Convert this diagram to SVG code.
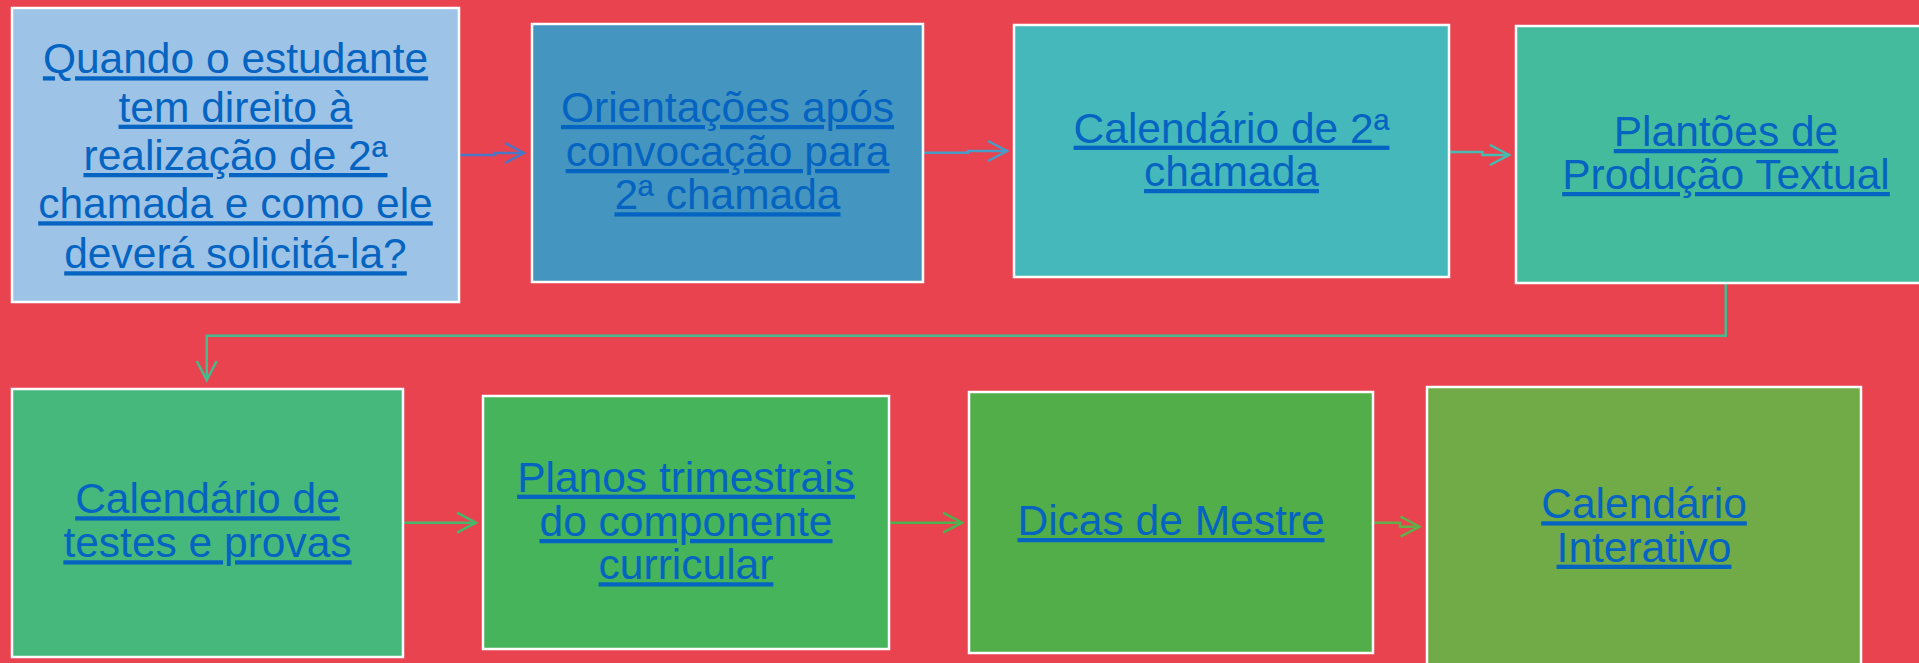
<svg xmlns="http://www.w3.org/2000/svg" width="1919" height="663" viewBox="0 0 1919 663">
<style>
.box{stroke:#ffffff;stroke-width:2.5}
.lbl{font-family:"Liberation Sans",Arial,sans-serif;font-size:42.5px;fill:#0563C1;text-anchor:middle;text-decoration:underline}
.con{fill:none;stroke-width:2.5;stroke-linejoin:miter}
</style>
<defs>
<marker id="ah1" markerUnits="userSpaceOnUse" markerWidth="24" markerHeight="24" viewBox="-21 -12 24 24" refX="0" refY="0" orient="auto"><path d="M-19,-10 L0,0 L-19,10" fill="none" stroke="#4A78C6" stroke-width="2.5"/></marker>
<marker id="ah2" markerUnits="userSpaceOnUse" markerWidth="24" markerHeight="24" viewBox="-21 -12 24 24" refX="0" refY="0" orient="auto"><path d="M-19,-10 L0,0 L-19,10" fill="none" stroke="#4A9CC6" stroke-width="2.5"/></marker>
<marker id="ah3" markerUnits="userSpaceOnUse" markerWidth="24" markerHeight="24" viewBox="-21 -12 24 24" refX="0" refY="0" orient="auto"><path d="M-19,-10 L0,0 L-19,10" fill="none" stroke="#45BCB2" stroke-width="2.5"/></marker>
<marker id="ah4" markerUnits="userSpaceOnUse" markerWidth="24" markerHeight="24" viewBox="-21 -12 24 24" refX="0" refY="0" orient="auto"><path d="M-19,-10 L0,0 L-19,10" fill="none" stroke="#45BB8E" stroke-width="2.5"/></marker>
<marker id="ah5" markerUnits="userSpaceOnUse" markerWidth="24" markerHeight="24" viewBox="-21 -12 24 24" refX="0" refY="0" orient="auto"><path d="M-19,-10 L0,0 L-19,10" fill="none" stroke="#46B86C" stroke-width="2.5"/></marker>
<marker id="ah6" markerUnits="userSpaceOnUse" markerWidth="24" markerHeight="24" viewBox="-21 -12 24 24" refX="0" refY="0" orient="auto"><path d="M-19,-10 L0,0 L-19,10" fill="none" stroke="#4CB250" stroke-width="2.5"/></marker>
<marker id="ah7" markerUnits="userSpaceOnUse" markerWidth="24" markerHeight="24" viewBox="-21 -12 24 24" refX="0" refY="0" orient="auto"><path d="M-19,-10 L0,0 L-19,10" fill="none" stroke="#62AE48" stroke-width="2.5"/></marker>
</defs>
<rect x="0" y="0" width="1919" height="663" fill="#E8434F"/>
<g id="connectors">
<path class="con" d="M460,155 H495 V153 H524" stroke="#4A78C6" marker-end="url(#ah1)"/>
<path class="con" d="M924,152.7 H968 V151 H1007" stroke="#4A9CC6" marker-end="url(#ah2)"/>
<path class="con" d="M1450,152 H1482.5 V155 H1509" stroke="#45BCB2" marker-end="url(#ah3)"/>
<path class="con" d="M1725.7,284 V335.7 H206.7 V380" stroke="#45BB8E" marker-end="url(#ah4)"/>
<path class="con" d="M404,522.7 H476" stroke="#46B86C" marker-end="url(#ah5)"/>
<path class="con" d="M890,522.7 H962" stroke="#4CB250" marker-end="url(#ah6)"/>
<path class="con" d="M1374,522.7 H1400 V526.7 H1419.5" stroke="#62AE48" marker-end="url(#ah7)"/>
</g>
<g id="node1">
<rect class="box" x="12" y="8" width="447" height="294" fill="#9DC3E6"/>
<text class="lbl" x="235.5" y="73.3">Quando o estudante</text>
<text class="lbl" x="235.5" y="121.7">tem direito à</text>
<text class="lbl" x="235.5" y="170">realização de 2ª</text>
<text class="lbl" x="235.5" y="218.3">chamada e como ele</text>
<text class="lbl" x="235.5" y="268.3">deverá solicitá-la?</text>
</g>
<g id="node2">
<rect class="box" x="532" y="24" width="391" height="258" fill="#4496C0"/>
<text class="lbl" x="727.5" y="122">Orientações após</text>
<text class="lbl" x="727.5" y="166">convocação para</text>
<text class="lbl" x="727.5" y="209.3">2ª chamada</text>
</g>
<g id="node3">
<rect class="box" x="1014" y="25" width="435" height="252" fill="#45B8BC"/>
<text class="lbl" x="1231.5" y="142.7">Calendário de 2ª</text>
<text class="lbl" x="1231.5" y="186">chamada</text>
</g>
<g id="node4">
<rect class="box" x="1516" y="26" width="420" height="257" fill="#45BB9E"/>
<text class="lbl" x="1726" y="146">Plantões de</text>
<text class="lbl" x="1726" y="189">Produção Textual</text>
</g>
<g id="node5">
<rect class="box" x="12" y="389" width="391" height="268" fill="#47B87C"/>
<text class="lbl" x="207.5" y="513.3">Calendário de</text>
<text class="lbl" x="207.5" y="557.3">testes e provas</text>
</g>
<g id="node6">
<rect class="box" x="483" y="396" width="406" height="253" fill="#45B45A"/>
<text class="lbl" x="686" y="491.7">Planos trimestrais</text>
<text class="lbl" x="686" y="536">do componente</text>
<text class="lbl" x="686" y="579.3">curricular</text>
</g>
<g id="node7">
<rect class="box" x="969" y="392" width="404" height="261" fill="#52AE48"/>
<text class="lbl" x="1171" y="535">Dicas de Mestre</text>
</g>
<g id="node8">
<rect class="box" x="1427" y="387" width="434" height="290" fill="#70AB48"/>
<text class="lbl" x="1644" y="518.3">Calendário</text>
<text class="lbl" x="1644" y="561.7">Interativo</text>
</g>
</svg>
